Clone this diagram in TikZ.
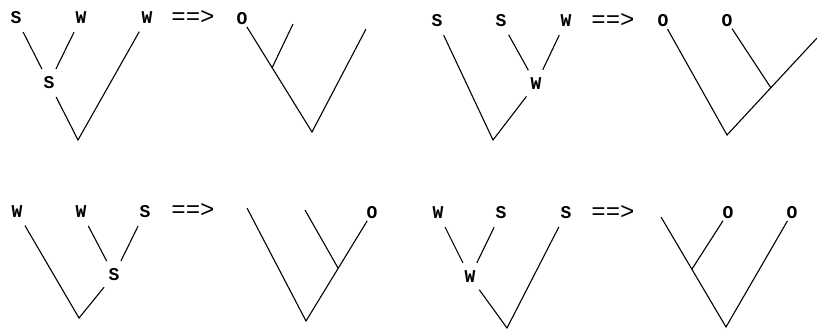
\documentclass[tikz,border=0pt]{standalone}
\usepackage{fontspec}
\setmonofont{Liberation Mono}
\begin{document}
\begin{tikzpicture}[x=1pt, y=-1pt,
    leaf/.style={circle, minimum size=31pt, inner sep=0pt, font=\fontsize{18}{20}\selectfont\ttfamily\bfseries},
    oleaf/.style={circle, minimum size=18pt, inner sep=0pt, font=\fontsize{18}{20}\selectfont\ttfamily\bfseries},
    rewrite/.style={inner sep=0pt, font=\fontsize{24}{26}\selectfont\ttfamily},
    branch/.style={line width=1.1pt}
  ]
  \useasboundingbox (0,0) rectangle (817,330);

  % S W W
  \node[leaf] (s11) at (16,18) {S};
  \node[leaf] (w11) at (81,18) {W};
  \node[leaf] (w12) at (147,18) {W};
  \node[leaf] (s12) at (49,83) {S};
  \coordinate (b1) at (78,140);
  \node[rewrite] (r1) at (193,18) {==>};
  \draw[branch] (s11) -- (s12);
  \draw[branch] (w11) -- (s12);
  \draw[branch] (s12) -- (b1) -- (w12);

  \node[oleaf] (o11) at (242,19) {O};
  \coordinate (c1) at (312,132);
  \coordinate (j1) at (272,68);
  \coordinate (t11) at (293,24);
  \coordinate (t12) at (366,29);
  \draw[branch] (o11) -- (c1) -- (t12);
  \draw[branch] (j1) -- (t11);

  % S S W
  \node[leaf] (s21) at (437,21) {S};
  \node[leaf] (s22) at (501,21) {S};
  \node[leaf] (w21) at (566,21) {W};
  \node[leaf] (w22) at (536,84) {W};
  \coordinate (b2) at (493,140);
  \node[rewrite] (r2) at (613,21) {==>};
  \draw[branch] (s21) -- (b2) -- (w22);
  \draw[branch] (s22) -- (w22);
  \draw[branch] (w21) -- (w22);

  \node[oleaf] (o21) at (663,21) {O};
  \node[oleaf] (o22) at (727,21) {O};
  \coordinate (c2) at (727,135);
  \coordinate (j2) at (771,88);
  \coordinate (t21) at (817,38);
  \draw[branch] (o21) -- (c2) -- (t21);
  \draw[branch] (o22) -- (j2);

  % W W S
  \node[leaf] (w31) at (17,212) {W};
  \node[leaf] (w32) at (81,212) {W};
  \node[leaf] (s31) at (145,212) {S};
  \node[leaf] (s32) at (114,275) {S};
  \coordinate (b3) at (79,318);
  \node[rewrite] (r3) at (193,210) {==>};
  \draw[branch] (w31) -- (b3) -- (s32);
  \draw[branch] (w32) -- (s32);
  \draw[branch] (s31) -- (s32);

  \node[oleaf] (o31) at (372,213) {O};
  \coordinate (t31) at (247,208);
  \coordinate (t32) at (305,210);
  \coordinate (c3) at (306,321);
  \coordinate (j3) at (338,268);
  \draw[branch] (t31) -- (c3) -- (o31);
  \draw[branch] (t32) -- (j3);

  % W S S
  \node[leaf] (w41) at (438,213) {W};
  \node[leaf] (s41) at (501,213) {S};
  \node[leaf] (s42) at (566,213) {S};
  \node[leaf] (w42) at (470,277) {W};
  \coordinate (b4) at (507,328);
  \node[rewrite] (r4) at (613,212) {==>};
  \draw[branch] (w41) -- (w42);
  \draw[branch] (s41) -- (w42);
  \draw[branch] (w42) -- (b4) -- (s42);

  \node[oleaf] (o41) at (728,213) {O};
  \node[oleaf] (o42) at (792,213) {O};
  \coordinate (t41) at (661,217);
  \coordinate (c4) at (726,327);
  \coordinate (j4) at (692,269);
  \draw[branch] (t41) -- (c4) -- (o42);
  \draw[branch] (o41) -- (j4);
\end{tikzpicture}
\end{document}
